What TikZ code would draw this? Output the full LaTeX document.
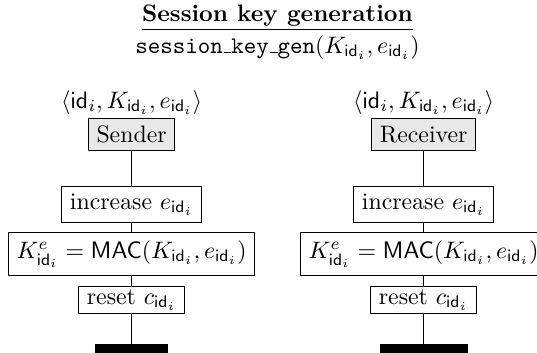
\documentclass[tikz,border=0pt]{standalone}
\usepackage{xcolor}
\usepackage{amsmath}
\usepackage{tikz}
\usetikzlibrary{positioning}
\definecolor{headgray}{gray}{0.91}

\newcommand{\idi}{\mathsf{id}_i}
\newcommand{\tunder}{\kern.06em\vbox{\hrule width.3em}}

\begin{document}
\begin{tikzpicture}[x=0.42pt, y=-0.42pt,
	head/.style={draw, fill=headgray, inner xsep=3.4pt, inner ysep=0pt, minimum height=13.4pt},
	action/.style={draw, inner xsep=3.4pt, inner ysep=0pt},
	keys/.style={inner sep=0pt},
	stopbar/.style={fill=black, minimum height=4.5pt, inner sep=0pt}]
			\useasboundingbox (0,0) rectangle (537,352);
			\node[anchor=base] (title) at (277.5,21.7) {\underline{\textbf{Session key generation}}};
			\node[anchor=base] (subtitle) at (277.5,53.3) {$\texttt{session\tunder key\tunder gen}(K_{\idi}, e_{\idi})$};
			% sender
			\node[head] (sendL) at (131.6,134.8) {Sender};
			\node[keys, above=1.5pt of sendL] (keysL) {$\langle \idi, K_{\idi}, e_{\idi}\rangle$};
			\node[action, minimum height=15.4pt, below=14.5pt of sendL] (incL) {increase $e_{\idi}$};
			\node[action, minimum height=18.3pt, below=3.5pt of incL] (macL) {$K^e_{\idi} = \mathsf{MAC}(K_{\idi}, e_{\idi})$};
			\node[action, minimum height=11.2pt, below=4.1pt of macL] (resL) {reset $c_{\idi}$};
			\node[stopbar, minimum width=30.7pt, below=12.6pt of resL] (endL) {};
			\draw (sendL) -- (incL) -- (macL) -- (resL) -- (endL);
			% receiver
			\node[head] (recR) at (423.6,134.8) {Receiver};
			\node[keys, above=1.5pt of recR] (keysR) {$\langle \idi, K_{\idi}, e_{\idi}\rangle$};
			\node[action, minimum height=15.4pt, below=14.5pt of recR] (incR) {increase $e_{\idi}$};
			\node[action, minimum height=18.3pt, below=3.5pt of incR] (macR) {$K^e_{\idi} = \mathsf{MAC}(K_{\idi}, e_{\idi})$};
			\node[action, minimum height=11.2pt, below=4.1pt of macR] (resR) {reset $c_{\idi}$};
			\node[stopbar, minimum width=37pt, below=12.6pt of resR] (endR) {};
			\draw (recR) -- (incR) -- (macR) -- (resR) -- (endR);
			\end{tikzpicture}
\end{document}
